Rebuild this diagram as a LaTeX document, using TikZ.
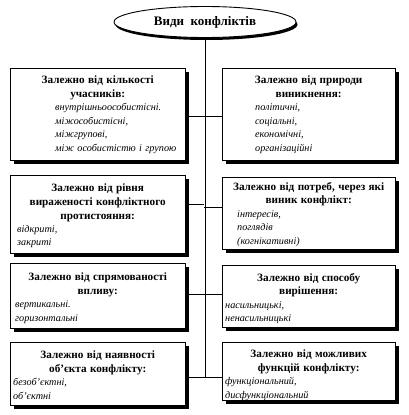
\documentclass[tikz,border=0pt]{standalone}
\usepackage{fontspec}
\setmainfont{Liberation Serif}
\usetikzlibrary{shapes.geometric,shadows}
\tikzset{
  shad/.style={drop shadow={shadow xshift=4pt, shadow yshift=-4pt, fill=black, opacity=1}},
  cbox/.style={draw, fill=white, line width=0.9pt, anchor=north west, inner sep=0pt, shad},
  ctext/.style={anchor=north west, inner sep=0pt, xshift=3pt,
    font=\fontsize{10.2}{13.4}\selectfont},
  conn/.style={line width=0.7pt}
}
\newcommand{\ttl}[1]{{\centering\fontsize{11.2}{13.6}\selectfont\bfseries #1\par}}
\newcommand{\lst}[2]{{\raggedright\itshape\leftskip=#1pt #2\par}}
\begin{document}
\begin{tikzpicture}[x=1pt,y=-1pt]
\useasboundingbox (0,0) rectangle (408,415);
% title ellipse
\node (e) [ellipse, draw, line width=0.9pt, fill=white, minimum width=182pt, minimum height=31pt,
  drop shadow={shadow xshift=1.5pt, shadow yshift=-2.5pt, fill=black, opacity=1}]
  at (205,22) {\fontsize{13}{15}\selectfont\bfseries Види\ \ конфліктів};
% connector coordinates
\coordinate (sb) at (204,377);
\coordinate (h1) at (204,116);
\coordinate (h2l) at (204,204);
\coordinate (h2r) at (204,207);
\coordinate (h3) at (204,294);
\coordinate (h4) at (204,377);
% boxes
\node (l1) [cbox, minimum width=175pt, minimum height=92pt] at (10,68) {};
\node (r1) [cbox, minimum width=173pt, minimum height=92pt] at (222,68) {};
\node (l2) [cbox, minimum width=175pt, minimum height=78pt] at (10,175) {};
\node (r2) [cbox, minimum width=173pt, minimum height=72pt] at (222,177) {};
\node (l3) [cbox, minimum width=175pt, minimum height=65pt] at (10,263) {};
\node (r3) [cbox, minimum width=173pt, minimum height=62pt] at (222,265) {};
\node (l4) [cbox, minimum width=175pt, minimum height=63pt] at (10,342) {};
\node (r4) [cbox, minimum width=173pt, minimum height=58pt] at (222,342) {};
% connectors
\draw[conn] (e.south) -- (e.south |- sb);
\draw[conn] (l1.east |- h1) -- (r1.west |- h1);
\draw[conn] (l2.east |- h2l) -- (h2l);
\draw[conn] (h2r) -- (r2.west |- h2r);
\draw[conn] (l3.east |- h3) -- (r3.west |- h3);
\draw[conn] (l4.east |- h4) -- (r4.west |- h4);
% texts
\node (l1t) [ctext, text width=169pt, yshift=-8pt] at (l1.north west)
  {\ttl{Залежно від кількості\\ учасників:}\lst{42}{внутрішньоособистісні.\\ міжособистісні,\\ міжгрупові,\\ між особистістю і групою}};
\node (r1t) [ctext, text width=167pt, yshift=-8pt] at (r1.north west)
  {\ttl{Залежно від природи\\ виникнення:}\lst{30}{політичні,\\ соціальні,\\ економічні,\\ організаційні}};
\node (l2t) [ctext, text width=169pt, yshift=-9pt] at (l2.north west)
  {\ttl{Залежно від рівня\\ вираженості конфліктного\\ протистояння:}\lst{4}{відкриті,\\ закриті}};
\node (r2t) [ctext, text width=167pt, yshift=-5pt] at (r2.north west)
  {\ttl{Залежно від потреб, через які\\ виник конфлікт:}\lst{12}{інтересів,\\ поглядів\\ (когнікативні)}};
\node (l3t) [ctext, text width=169pt, yshift=-10pt] at (l3.north west)
  {\ttl{Залежно від спрямованості\\ впливу:}\lst{2}{вертикальні.\\ горизонтальні}};
\node (r3t) [ctext, text width=167pt, yshift=-8pt] at (r3.north west)
  {\ttl{Залежно від способу\\ вирішення:}\lst{0}{насильницькі,\\ ненасильницькі}};
\node (l4t) [ctext, text width=169pt, yshift=-9pt] at (l4.north west)
  {\ttl{Залежно від наявності\\ об’єкта конфлікту:}\lst{0}{безоб’єктні,\\ об’єктні}};
\node (r4t) [ctext, text width=167pt, yshift=-8pt] at (r4.north west)
  {\ttl{Залежно від можливих\\ функцій конфлікту:}\lst{0}{функціональний,\\ дисфункціональний}};
\end{tikzpicture}
\end{document}
